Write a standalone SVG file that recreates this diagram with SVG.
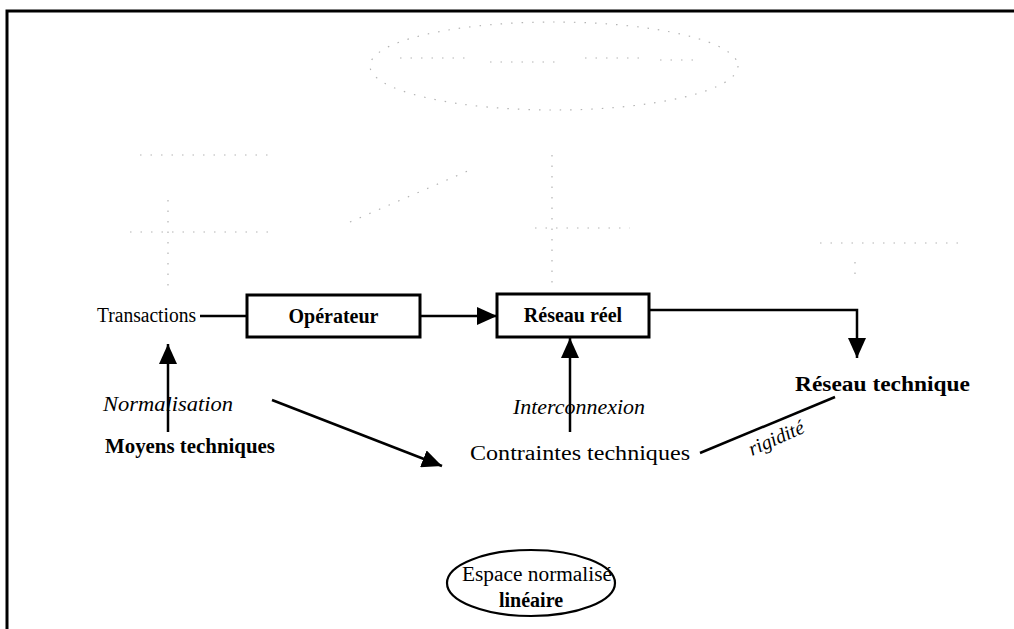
<svg xmlns="http://www.w3.org/2000/svg" width="1014" height="629" viewBox="0 0 1014 629">
<defs>
<marker id="ah" markerUnits="userSpaceOnUse" markerWidth="22" markerHeight="18" refX="20" refY="9" orient="auto">
<path d="M0,0 L20,9 L0,18 Z" fill="#000"/>
</marker>
<style>
.t{font-family:"Liberation Serif","Times New Roman",serif;font-size:20px;fill:#000}
.b{font-weight:bold}
.i{font-style:italic}
.box{fill:#fff;stroke:#000;stroke-width:3}
.ln{fill:none;stroke:#000;stroke-width:2.5}
.ghost{fill:none;stroke:#b4b4b4;stroke-width:1.2;stroke-dasharray:1.5 9}
</style>
</defs>
<rect width="1014" height="629" fill="#fff"/>
<path d="M7,629 V11 H1014" fill="none" stroke="#000" stroke-width="3"/>
<g id="ghosts">
<ellipse class="ghost" cx="554" cy="66" rx="184" ry="44"/>
<path class="ghost" d="M400,58 H470 M490,62 H560 M585,58 H640 M660,60 H700"/>
<path class="ghost" d="M140,155 H275"/>
<path class="ghost" d="M168,200 V292"/>
<path class="ghost" d="M130,232 H270"/>
<path class="ghost" d="M350,222 L470,170"/>
<path class="ghost" d="M552,155 V285"/>
<path class="ghost" d="M535,228 H630"/>
<path class="ghost" d="M820,243 H960"/>
<path class="ghost" d="M855,262 V282"/>
</g>
<g id="connectors">
<path class="ln" d="M200,316 H247"/>
<path class="ln" d="M420,316 H497" marker-end="url(#ah)"/>
<path class="ln" d="M649,310 H857 V358" marker-end="url(#ah)"/>
<path class="ln" d="M168,432 V344" marker-end="url(#ah)"/>
<path class="ln" d="M272,400 L442,466" marker-end="url(#ah)" stroke-width="2"/>
<path class="ln" d="M570,432 V338" marker-end="url(#ah)"/>
<path class="ln" d="M700,453 L835,397" stroke-width="1.8"/>
<text class="t i" x="0" y="0" transform="translate(752,456) rotate(-24)" font-size="18">rigidité</text>
<text class="t i" x="103" y="411" textLength="130" lengthAdjust="spacingAndGlyphs">Normalisation</text>
<text class="t i" x="513" y="414" textLength="132" lengthAdjust="spacingAndGlyphs">Interconnexion</text>
</g>
<g id="transactions">
<text class="t" x="97" y="322" textLength="99" lengthAdjust="spacingAndGlyphs">Transactions</text>
</g>
<g id="operateur">
<rect class="box" x="247" y="295" width="173" height="42"/>
<text class="t b" x="333.5" y="323" text-anchor="middle">Opérateur</text>
</g>
<g id="reseau-reel">
<rect class="box" x="497" y="294" width="152" height="43"/>
<text class="t b" x="573" y="322" text-anchor="middle">Réseau réel</text>
</g>
<g id="reseau-technique">
<text class="t b" x="795" y="391" textLength="175" lengthAdjust="spacingAndGlyphs">Réseau technique</text>
</g>
<g id="moyens-techniques">
<text class="t b" x="105" y="453" textLength="170" lengthAdjust="spacingAndGlyphs">Moyens techniques</text>
</g>
<g id="contraintes-techniques">
<text class="t" x="470" y="460" textLength="220" lengthAdjust="spacingAndGlyphs">Contraintes techniques</text>
</g>
<g id="espace">
<ellipse cx="531" cy="583" rx="84" ry="33" fill="none" stroke="#000" stroke-width="2.2"/>
<text class="t" x="462" y="581" font-size="19" textLength="150" lengthAdjust="spacingAndGlyphs">Espace normalisé</text>
<text class="t b" x="531" y="607" text-anchor="middle" font-size="18">linéaire</text>
</g>
</svg>
